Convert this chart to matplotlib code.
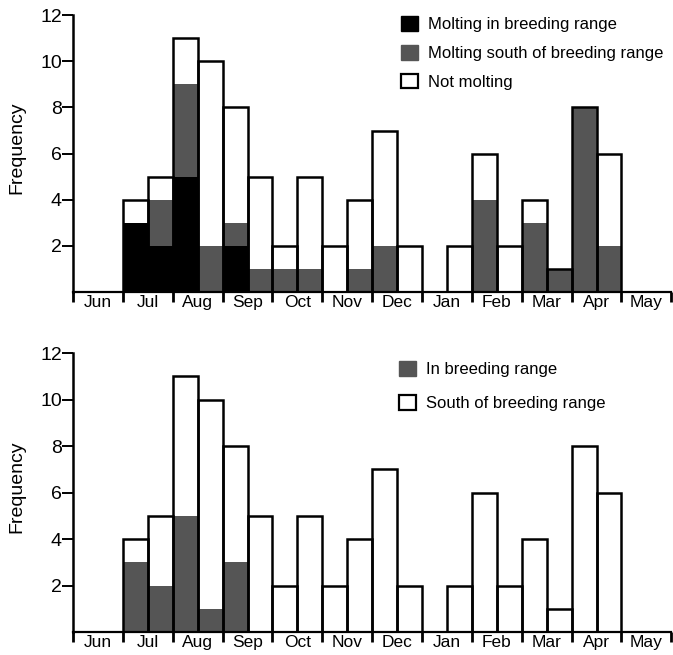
'''     molt timing histograms      '''
import matplotlib.pyplot as plt
from matplotlib.patches import Patch
import numpy as np

plt.rcParams['font.family'] = ['Liberation Sans', 'DejaVu Sans']

months = ['Jun', 'Jul', 'Aug', 'Sep', 'Oct', 'Nov', 'Dec', 'Jan', 'Feb', 'Mar', 'Apr', 'May']

# half-month bins, Jun 1-15, Jun 16-30, Jul 1-15, ...
molt_breeding = [0, 0, 3, 2, 5, 0, 2, 0, 0, 0, 0, 0, 0, 0, 0, 0, 0, 0, 0, 0, 0, 0, 0, 0]
molt_south = [0, 0, 0, 2, 4, 2, 1, 1, 1, 1, 0, 1, 2, 0, 0, 0, 4, 0, 3, 1, 8, 2, 0, 0]
not_molting = [0, 0, 1, 1, 2, 8, 5, 4, 1, 4, 2, 3, 5, 2, 0, 2, 2, 2, 1, 0, 0, 4, 0, 0]

in_range = [0, 0, 3, 2, 5, 1, 3, 0, 0, 0, 0, 0, 0, 0, 0, 0, 0, 0, 0, 0, 0, 0, 0, 0]
south_range = [0, 0, 1, 3, 6, 9, 5, 5, 2, 5, 2, 4, 7, 2, 0, 2, 6, 2, 4, 1, 8, 6, 0, 0]

GRAY = '#555555'
x = np.arange(24)

fig = plt.figure(figsize=(6.73, 6.55), dpi=100)
ax1 = fig.add_axes([0.1085, 0.554, 0.889, 0.423])
ax2 = fig.add_axes([0.1085, 0.035, 0.889, 0.426])


def style(ax):
    ax.set_xlim(0, 24)
    ax.set_ylim(0, 12)
    ax.spines['top'].set_visible(False)
    ax.spines['right'].set_visible(False)
    ax.spines['left'].set_linewidth(1.8)
    ax.spines['bottom'].set_linewidth(1.6)
    ax.set_yticks([2, 4, 6, 8, 10, 12])
    ax.tick_params(axis='y', direction='out', length=8, width=1.4, pad=0, labelsize=14)
    ax.set_xticks(np.arange(0, 25, 2))
    ax.set_xticklabels([])
    ax.tick_params(axis='x', which='major', direction='out', length=7, width=2)
    ax.set_xticks(np.arange(1, 24, 2), minor=True)
    ax.set_xticklabels(months, minor=True)
    ax.tick_params(axis='x', which='minor', length=0, pad=2, labelsize=12.5)
    ax.set_ylabel('Frequency', fontsize=14)
    ax.yaxis.set_label_coords(-0.08, 0.52)


def outline(ax, total):
    ax.bar(x, total, width=1, align='edge', fill=False, edgecolor='black', linewidth=1.8)


# top panel
b = np.array(molt_breeding)
s = np.array(molt_south)
n = np.array(not_molting)
ax1.bar(x, b, width=1, align='edge', color='black', linewidth=0)
ax1.bar(x, s, width=1, align='edge', bottom=b, color=GRAY, linewidth=0)
ax1.bar(x, n, width=1, align='edge', bottom=b + s, color='white', linewidth=0)
outline(ax1, b + s + n)
style(ax1)
h1 = [Patch(facecolor='black', edgecolor='black', label='Molting in breeding range'),
      Patch(facecolor=GRAY, edgecolor=GRAY, label='Molting south of breeding range'),
      Patch(facecolor='white', edgecolor='black', linewidth=1.6, label='Not molting')]
ax1.legend(handles=h1, loc='upper left', bbox_to_anchor=(0.523, 1.05), frameon=False,
           fontsize=12, handlelength=1.0, handleheight=1.0, handletextpad=0.6, labelspacing=0.75)

# bottom panel
i = np.array(in_range)
o = np.array(south_range)
ax2.bar(x, i, width=1, align='edge', color=GRAY, linewidth=0)
ax2.bar(x, o, width=1, align='edge', bottom=i, color='white', linewidth=0)
outline(ax2, i + o)
style(ax2)
h2 = [Patch(facecolor=GRAY, edgecolor=GRAY, label='In breeding range'),
      Patch(facecolor='white', edgecolor='black', linewidth=1.6, label='South of breeding range')]
ax2.legend(handles=h2, loc='upper left', bbox_to_anchor=(0.52, 1.025), frameon=False,
           fontsize=12, handlelength=1.0, handleheight=1.0, handletextpad=0.6, labelspacing=1.05)

plt.savefig('out.png', dpi=100)
